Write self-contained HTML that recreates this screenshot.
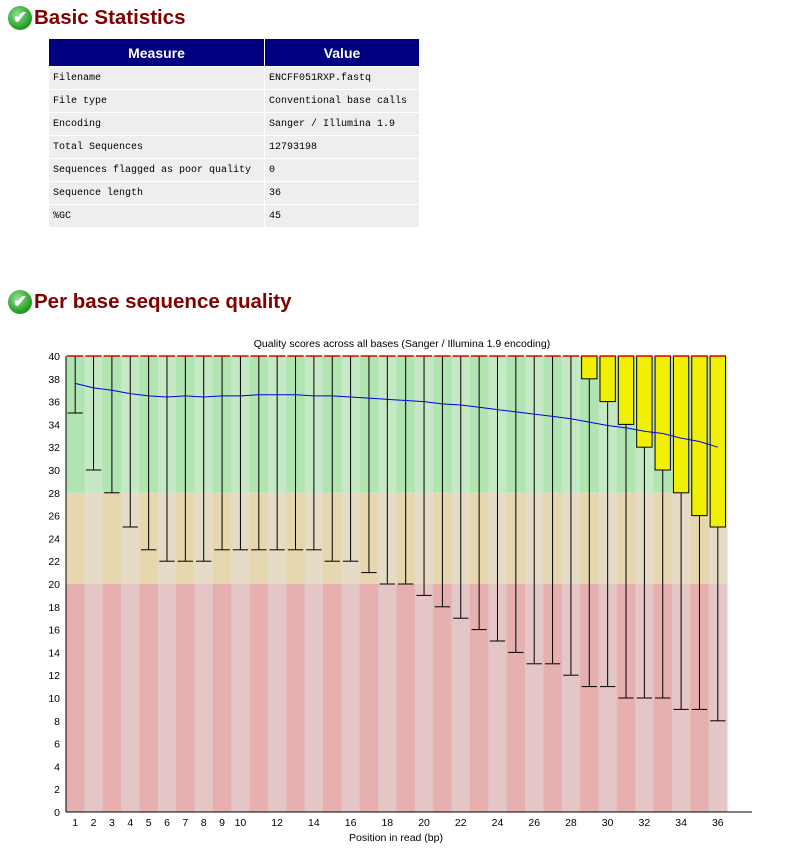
<!DOCTYPE html>
<html><head><meta charset="utf-8">
<style>
body{margin:0;width:791px;height:852px;background:#fff;position:relative;overflow:hidden;font-family:"Liberation Sans",sans-serif}
.h{position:absolute;left:8px;font-weight:bold;font-size:20.5px;color:#800000;display:flex;align-items:center}
.ic{width:24px;height:24px;border-radius:50%;background:radial-gradient(circle at 40% 35%,#8fe08f,#1f9a1f 70%,#167a16);color:#fff;font-size:17px;line-height:24px;text-align:center;margin-right:2px}
table{position:absolute;left:48px;top:38px;border-collapse:collapse;table-layout:fixed;width:371px;font-family:"Liberation Mono",monospace;font-size:10px}
th{background:#000080;color:#fff;font-family:"Liberation Sans",sans-serif;font-size:14px;height:27px;padding:0;border:1px solid #fff}
td{background:#eee;height:22px;padding:0 4px;border:1px solid #fff;white-space:nowrap;overflow:hidden}
</style></head><body>
<div class="h" style="top:6px"><div class="ic">✔</div>Basic Statistics</div>
<table>
<colgroup><col style="width:216px"><col style="width:155px"></colgroup>
<tr><th>Measure</th><th>Value</th></tr>
<tr><td>Filename</td><td>ENCFF051RXP.fastq</td></tr>
<tr><td>File type</td><td>Conventional base calls</td></tr>
<tr><td>Encoding</td><td>Sanger / Illumina 1.9</td></tr>
<tr><td>Total Sequences</td><td>12793198</td></tr>
<tr><td>Sequences flagged as poor quality</td><td>0</td></tr>
<tr><td>Sequence length</td><td>36</td></tr>
<tr><td>%GC</td><td>45</td></tr>
</table>
<div class="h" style="top:290px"><div class="ic">✔</div>Per base sequence quality</div>
<svg id="c" width="791" height="852" style="position:absolute;left:0;top:0" font-family="Liberation Sans, DejaVu Sans, sans-serif"></svg>
<script>
const positions=[1,2,3,4,5,6,7,8,9,10,11,12,13,14,15,16,17,18,19,20,21,22,23,24,25,26,27,28,29,30,31,32,33,34,35,36];
const lowerWhisker=[35,30,28,25,23,22,22,22,23,23,23,23,23,23,22,22,21,20,20,19,18,17,16,15,14,13,13,12,11,11,10,10,10,9,9,8];
const q1=[40,40,40,40,40,40,40,40,40,40,40,40,40,40,40,40,40,40,40,40,40,40,40,40,40,40,40,40,38,36,34,32,30,28,26,25];
const q3=[40,40,40,40,40,40,40,40,40,40,40,40,40,40,40,40,40,40,40,40,40,40,40,40,40,40,40,40,40,40,40,40,40,40,40,40];
const medians=[40,40,40,40,40,40,40,40,40,40,40,40,40,40,40,40,40,40,40,40,40,40,40,40,40,40,40,40,40,40,40,40,40,40,40,40];
const upperWhisker=q3;
const means=[37.6,37.2,37.0,36.7,36.5,36.4,36.5,36.4,36.5,36.5,36.6,36.6,36.6,36.5,36.5,36.4,36.3,36.2,36.1,36.0,35.8,35.7,35.5,35.3,35.1,34.9,34.7,34.5,34.2,33.9,33.7,33.4,33.2,32.8,32.5,32.0];
const xTickLabels=["1","2","3","4","5","6","7","8","9","10","12","14","16","18","20","22","24","26","28","30","32","34","36"];
const yTicks=[0,2,4,6,8,10,12,14,16,18,20,22,24,26,28,30,32,34,36,38,40];
const svg=document.getElementById('c');const NS='http://www.w3.org/2000/svg';
const L=66,R=727,T=356,B=812,bw=(R-L)/positions.length;
const x=i=>L+i*bw; const y=v=>B-(v/40)*(B-T);
function mk(t,a,p){const e=document.createElementNS(NS,t);for(const k in a)e.setAttribute(k,a[k]);(p||svg).appendChild(e);return e;}
const zones=[[28,40,'#b0e4b0','#c5e8c5'],[20,28,'#e6d7ae','#e5dbc6'],[0,20,'#e6b0b0','#e4c6c6']];
positions.forEach((p,i)=>{zones.forEach(z=>{
const r=mk('rect',{x:x(i),y:y(z[1]),width:bw+0.5,height:y(z[0])-y(z[1]),fill:i%2?z[3]:z[2]});

});});
positions.forEach((p,i)=>{const cx=x(i)+bw/2;
const w=mk('line',{x1:cx,x2:cx,y1:y(upperWhisker[i]),y2:y(lowerWhisker[i]),stroke:'#000','stroke-width':1});


const c=mk('line',{x1:cx-bw/2+1.5,x2:cx+bw/2-1.5,y1:y(lowerWhisker[i]),y2:y(lowerWhisker[i]),stroke:'#000','stroke-width':1});


if(q3[i]>q1[i]){const b=mk('rect',{x:cx-bw/2+1.5,y:y(q3[i]),width:bw-3,height:y(q1[i])-y(q3[i]),fill:'#f0f000',stroke:'#000','stroke-width':1});

}
const m=mk('line',{x1:x(i)+1,x2:x(i)+bw-1,y1:y(medians[i]),y2:y(medians[i]),stroke:'#e00000','stroke-width':1.5});

});
const ml=mk('polyline',{points:means.map((v,i)=>(x(i)+bw/2)+','+y(v)).join(' '),fill:'none',stroke:'#0000e0','stroke-width':1});


mk('line',{x1:L,x2:L,y1:T,y2:B,stroke:'#000'});mk('line',{x1:L,x2:R+25,y1:B,y2:B,stroke:'#000'});
yTicks.forEach(v=>{const t=mk('text',{x:60,y:y(v)+4,'text-anchor':'end','font-size':10.5,fill:'#000'});t.textContent=v;

});
xTickLabels.forEach(s=>{const i=+s-1;const t=mk('text',{x:x(i)+bw/2,y:826,'text-anchor':'middle','font-size':10.5,fill:'#000'});t.textContent=s;

});
const tt=mk('text',{x:402,y:347,'text-anchor':'middle','font-size':10.5});tt.textContent='Quality scores across all bases (Sanger / Illumina 1.9 encoding)';


const xt=mk('text',{x:396,y:841,'text-anchor':'middle','font-size':10.5});xt.textContent='Position in read (bp)';


</script>
</body></html>
